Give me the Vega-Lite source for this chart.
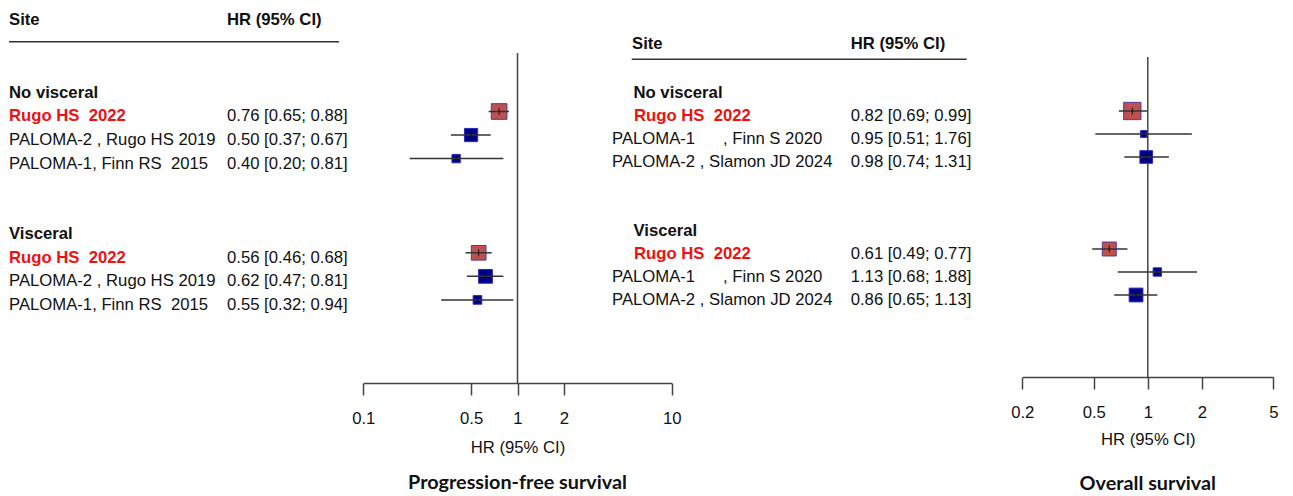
{
  "$schema": "https://vega.github.io/schema/vega-lite/v6.json",
  "width": 1293,
  "height": 383,
  "autosize": {"type": "none"},
  "padding": {"left": 0, "top": 0, "right": 0, "bottom": 113},
  "background": "white",
  "config": {"view": {"stroke": null}, "font": "Liberation Sans"},
  "datasets": {
    "pfs": [
      {"row": 1, "label": "No visceral", "kind": "group"},
      {"row": 2, "label": "Rugo HS\u00a0\u00a02022", "kind": "main", "hr": 0.76, "lo": 0.65, "hi": 0.88, "hr_text": "0.76 [0.65; 0.88]", "w": 49},
      {"row": 3, "label": "PALOMA-2 , Rugo HS 2019", "kind": "other", "hr": 0.50, "lo": 0.37, "hi": 0.67, "hr_text": "0.50 [0.37; 0.67]", "w": 35},
      {"row": 4, "label": "PALOMA-1, Finn RS\u00a0\u00a02015", "kind": "other", "hr": 0.40, "lo": 0.20, "hi": 0.81, "hr_text": "0.40 [0.20; 0.81]", "w": 14},
      {"row": 7, "label": "Visceral", "kind": "group"},
      {"row": 8, "label": "Rugo HS\u00a0\u00a02022", "kind": "main", "hr": 0.56, "lo": 0.46, "hi": 0.68, "hr_text": "0.56 [0.46; 0.68]", "w": 43},
      {"row": 9, "label": "PALOMA-2 , Rugo HS 2019", "kind": "other", "hr": 0.62, "lo": 0.47, "hi": 0.81, "hr_text": "0.62 [0.47; 0.81]", "w": 38},
      {"row": 10, "label": "PALOMA-1, Finn RS\u00a0\u00a02015", "kind": "other", "hr": 0.55, "lo": 0.32, "hi": 0.94, "hr_text": "0.55 [0.32; 0.94]", "w": 15}
    ],
    "os": [
      {"row": 1, "label": "No visceral", "kind": "group"},
      {"row": 2, "label": "Rugo HS\u00a0\u00a02022", "kind": "main", "hr": 0.82, "lo": 0.69, "hi": 0.99, "hr_text": "0.82 [0.69; 0.99]", "w": 60},
      {"row": 3, "label": "PALOMA-1\u00a0\u00a0\u00a0\u00a0\u00a0\u00a0, Finn S 2020", "kind": "other", "hr": 0.95, "lo": 0.51, "hi": 1.76, "hr_text": "0.95 [0.51; 1.76]", "w": 9},
      {"row": 4, "label": "PALOMA-2 , Slamon JD 2024", "kind": "other", "hr": 0.98, "lo": 0.74, "hi": 1.31, "hr_text": "0.98 [0.74; 1.31]", "w": 32},
      {"row": 7, "label": "Visceral", "kind": "group"},
      {"row": 8, "label": "Rugo HS\u00a0\u00a02022", "kind": "main", "hr": 0.61, "lo": 0.49, "hi": 0.77, "hr_text": "0.61 [0.49; 0.77]", "w": 39},
      {"row": 9, "label": "PALOMA-1\u00a0\u00a0\u00a0\u00a0\u00a0\u00a0, Finn S 2020", "kind": "other", "hr": 1.13, "lo": 0.68, "hi": 1.88, "hr_text": "1.13 [0.68; 1.88]", "w": 14},
      {"row": 10, "label": "PALOMA-2 , Slamon JD 2024", "kind": "other", "hr": 0.86, "lo": 0.65, "hi": 1.13, "hr_text": "0.86 [0.65; 1.13]", "w": 38}
    ],
    "pfs_head": [{"site": "Site", "hr": "HR (95% CI)", "title": "Progression-free survival", "ref": 1}],
    "os_head": [{"site": "Site", "hr": "HR (95% CI)", "title": "Overall survival", "ref": 1}]
  },
  "layer": [
    {
      "data": {"name": "pfs"},
      "transform": [{"filter": "datum.kind == 'other'"}],
      "mark": {"type": "text", "align": "left", "baseline": "middle", "dy": 5, "fontSize": 16.7, "color": "#111111"},
      "encoding": {
        "x": {"datum": 0, "type": "quantitative", "scale": {"domain": [0, 1], "range": [9, 227], "nice": false, "zero": false}, "axis": null},
        "y": {"field": "row", "type": "quantitative", "scale": {"domain": [-2.7346, 13.5287], "range": [0, 383], "nice": false, "zero": false}, "axis": null},
        "text": {"field": "label"}
      }
    },
    {
      "data": {"name": "pfs"},
      "transform": [{"filter": "datum.kind == 'main'"}],
      "mark": {"type": "text", "align": "left", "baseline": "middle", "dy": 5, "fontSize": 16.7, "fontWeight": "bold", "color": "#F01010"},
      "encoding": {
        "x": {"datum": 0, "type": "quantitative", "scale": {"domain": [0, 1], "range": [9, 227], "nice": false, "zero": false}, "axis": null},
        "y": {"field": "row", "type": "quantitative", "scale": {"domain": [-2.7346, 13.5287], "range": [0, 383], "nice": false, "zero": false}, "axis": null},
        "text": {"field": "label"}
      }
    },
    {
      "data": {"name": "pfs"},
      "transform": [{"filter": "datum.kind == 'group'"}],
      "mark": {"type": "text", "align": "left", "baseline": "middle", "dy": 5, "fontSize": 16.7, "fontWeight": "bold", "color": "#111111"},
      "encoding": {
        "x": {"datum": 0, "type": "quantitative", "scale": {"domain": [0, 1], "range": [9, 227], "nice": false, "zero": false}, "axis": null},
        "y": {"field": "row", "type": "quantitative", "scale": {"domain": [-2.7346, 13.5287], "range": [0, 383], "nice": false, "zero": false}, "axis": null},
        "text": {"field": "label"}
      }
    },
    {
      "data": {"name": "pfs"},
      "transform": [{"filter": "datum.kind != 'group'"}],
      "mark": {"type": "text", "align": "left", "baseline": "middle", "dy": 5, "fontSize": 16.7, "color": "#111111"},
      "encoding": {
        "x": {"datum": 1, "type": "quantitative", "scale": {"domain": [0, 1], "range": [9, 227], "nice": false, "zero": false}, "axis": null},
        "y": {"field": "row", "type": "quantitative", "scale": {"domain": [-2.7346, 13.5287], "range": [0, 383], "nice": false, "zero": false}, "axis": null},
        "text": {"field": "hr_text"}
      }
    },
    {
      "data": {"name": "pfs_head"},
      "mark": {"type": "text", "align": "left", "baseline": "middle", "dy": 5, "fontSize": 16.7, "fontWeight": "bold", "color": "#111111"},
      "encoding": {
        "x": {"datum": 0, "type": "quantitative", "scale": {"domain": [0, 1], "range": [9, 227], "nice": false, "zero": false}, "axis": null},
        "y": {"datum": -2.098, "type": "quantitative", "scale": {"domain": [-2.7346, 13.5287], "range": [0, 383], "nice": false, "zero": false}, "axis": null},
        "text": {"field": "site"}
      }
    },
    {
      "data": {"name": "pfs_head"},
      "mark": {"type": "text", "align": "left", "baseline": "middle", "dy": 5, "fontSize": 16.7, "fontWeight": "bold", "color": "#111111"},
      "encoding": {
        "x": {"datum": 1, "type": "quantitative", "scale": {"domain": [0, 1], "range": [9, 227], "nice": false, "zero": false}, "axis": null},
        "y": {"datum": -2.098, "type": "quantitative", "scale": {"domain": [-2.7346, 13.5287], "range": [0, 383], "nice": false, "zero": false}, "axis": null},
        "text": {"field": "hr"}
      }
    },
    {
      "data": {"name": "pfs_head"},
      "mark": {"type": "rule", "color": "#333333", "strokeWidth": 1.5},
      "encoding": {
        "x": {"datum": 0, "type": "quantitative", "scale": {"domain": [0, 1], "range": [9, 227], "nice": false, "zero": false}, "axis": null},
        "x2": {"datum": 1.514},
        "y": {"datum": -0.964, "type": "quantitative", "scale": {"domain": [-2.7346, 13.5287], "range": [0, 383], "nice": false, "zero": false}, "axis": null}
      }
    },
    {
      "data": {"name": "pfs_head"},
      "mark": {"type": "rule", "color": "#444444", "strokeWidth": 1.5},
      "encoding": {
        "x": {"field": "ref", "type": "quantitative", "scale": {"type": "log", "domain": [0.1, 10], "range": [363.3, 671.7], "nice": false}, "axis": null},
        "y": {"datum": -0.484, "type": "quantitative", "scale": {"domain": [-2.7346, 13.5287], "range": [0, 383], "nice": false, "zero": false}, "axis": null},
        "y2": {"datum": 13.5287}
      }
    },
    {
      "data": {"name": "pfs"},
      "transform": [{"filter": {"field": "hr", "valid": true}}],
      "mark": {"type": "point", "shape": "square", "filled": true, "strokeWidth": 1, "opacity": 1},
      "encoding": {
        "x": {"field": "hr", "type": "quantitative",
          "scale": {"type": "log", "domain": [0.1, 10], "range": [363.3, 671.7], "nice": false},
          "axis": {"orient": "bottom", "values": [0.1, 0.5, 1, 2, 10], "format": "~g", "grid": false, "domainColor": "#444444", "domainWidth": 1.5, "tickColor": "#444444", "tickWidth": 1.5, "tickSize": 12, "labelFontSize": 16.7, "labelColor": "#111111", "labelPadding": 15, "labelFlush": false, "labelOverlap": false, "titleFontSize": 16.7, "titleFontWeight": "normal", "titleColor": "#111111", "titlePadding": 13, "title": "HR (95% CI)"}},
        "y": {"field": "row", "type": "quantitative", "scale": {"domain": [-2.7346, 13.5287], "range": [0, 383], "nice": false, "zero": false}, "axis": null},
        "size": {"field": "w", "type": "quantitative", "scale": {"domain": [0, 100], "range": [0, 500], "zero": true}, "legend": null},
        "fill": {"field": "kind", "type": "nominal", "scale": {"domain": ["main", "other"], "range": ["#C0504D", "#000088"]}, "legend": null},
        "stroke": {"field": "kind", "type": "nominal", "scale": {"domain": ["main", "other"], "range": ["#4B3A9E", "#2A2ABF"]}, "legend": null}
      }
    },
    {
      "data": {"name": "pfs"},
      "transform": [{"filter": {"field": "hr", "valid": true}}],
      "mark": {"type": "rule", "color": "#333333", "strokeWidth": 1.5},
      "encoding": {
        "x": {"field": "lo", "type": "quantitative", "scale": {"type": "log", "domain": [0.1, 10], "range": [363.3, 671.7], "nice": false}, "axis": null},
        "x2": {"field": "hi"},
        "y": {"field": "row", "type": "quantitative", "scale": {"domain": [-2.7346, 13.5287], "range": [0, 383], "nice": false, "zero": false}, "axis": null}
      }
    },
    {
      "data": {"name": "pfs"},
      "transform": [{"filter": {"field": "hr", "valid": true}}],
      "mark": {"type": "point", "shape": "M0,-1L0,1", "filled": false, "stroke": "#111111", "strokeWidth": 1, "size": 49, "opacity": 1},
      "encoding": {
        "x": {"field": "hr", "type": "quantitative", "scale": {"type": "log", "domain": [0.1, 10], "range": [363.3, 671.7], "nice": false}, "axis": null},
        "y": {"field": "row", "type": "quantitative", "scale": {"domain": [-2.7346, 13.5287], "range": [0, 383], "nice": false, "zero": false}, "axis": null}
      }
    },
    {
      "data": {"name": "pfs_head"},
      "mark": {"type": "text", "align": "center", "baseline": "middle", "font": "Lato", "fontWeight": "bold", "fontSize": 19.8, "color": "#111111"},
      "encoding": {
        "x": {"field": "ref", "type": "quantitative", "scale": {"type": "log", "domain": [0.1, 10], "range": [363.3, 671.7], "nice": false}, "axis": null},
        "y": {"datum": 17.79, "type": "quantitative", "scale": {"domain": [-2.7346, 13.5287], "range": [0, 383], "nice": false, "zero": false}, "axis": null},
        "text": {"field": "title"}
      }
    },
    {
      "data": {"name": "os"},
      "transform": [{"filter": "datum.kind == 'other'"}],
      "mark": {"type": "text", "align": "left", "baseline": "middle", "dy": 5, "fontSize": 16.7, "color": "#111111"},
      "encoding": {
        "x": {"datum": 0, "type": "quantitative", "scale": {"domain": [0, 1], "range": [612, 850.7], "nice": false, "zero": false}, "axis": null},
        "y": {"field": "row", "type": "quantitative", "scale": {"domain": [-2.8261, 13.8261], "range": [0, 383], "nice": false, "zero": false}, "axis": null},
        "text": {"field": "label"}
      }
    },
    {
      "data": {"name": "os"},
      "transform": [{"filter": "datum.kind == 'main'"}],
      "mark": {"type": "text", "align": "left", "baseline": "middle", "dy": 5, "fontSize": 16.7, "fontWeight": "bold", "color": "#F01010"},
      "encoding": {
        "x": {"datum": 0.092, "type": "quantitative", "scale": {"domain": [0, 1], "range": [612, 850.7], "nice": false, "zero": false}, "axis": null},
        "y": {"field": "row", "type": "quantitative", "scale": {"domain": [-2.8261, 13.8261], "range": [0, 383], "nice": false, "zero": false}, "axis": null},
        "text": {"field": "label"}
      }
    },
    {
      "data": {"name": "os"},
      "transform": [{"filter": "datum.kind == 'group'"}],
      "mark": {"type": "text", "align": "left", "baseline": "middle", "dy": 5, "fontSize": 16.7, "fontWeight": "bold", "color": "#111111"},
      "encoding": {
        "x": {"datum": 0.09, "type": "quantitative", "scale": {"domain": [0, 1], "range": [612, 850.7], "nice": false, "zero": false}, "axis": null},
        "y": {"field": "row", "type": "quantitative", "scale": {"domain": [-2.8261, 13.8261], "range": [0, 383], "nice": false, "zero": false}, "axis": null},
        "text": {"field": "label"}
      }
    },
    {
      "data": {"name": "os"},
      "transform": [{"filter": "datum.kind != 'group'"}],
      "mark": {"type": "text", "align": "left", "baseline": "middle", "dy": 5, "fontSize": 16.7, "color": "#111111"},
      "encoding": {
        "x": {"datum": 1, "type": "quantitative", "scale": {"domain": [0, 1], "range": [612, 850.7], "nice": false, "zero": false}, "axis": null},
        "y": {"field": "row", "type": "quantitative", "scale": {"domain": [-2.8261, 13.8261], "range": [0, 383], "nice": false, "zero": false}, "axis": null},
        "text": {"field": "hr_text"}
      }
    },
    {
      "data": {"name": "os_head"},
      "mark": {"type": "text", "align": "left", "baseline": "middle", "dy": 5, "fontSize": 16.7, "fontWeight": "bold", "color": "#111111"},
      "encoding": {
        "x": {"datum": 0.084, "type": "quantitative", "scale": {"domain": [0, 1], "range": [612, 850.7], "nice": false, "zero": false}, "axis": null},
        "y": {"datum": -1.152, "type": "quantitative", "scale": {"domain": [-2.8261, 13.8261], "range": [0, 383], "nice": false, "zero": false}, "axis": null},
        "text": {"field": "site"}
      }
    },
    {
      "data": {"name": "os_head"},
      "mark": {"type": "text", "align": "left", "baseline": "middle", "dy": 5, "fontSize": 16.7, "fontWeight": "bold", "color": "#111111"},
      "encoding": {
        "x": {"datum": 1, "type": "quantitative", "scale": {"domain": [0, 1], "range": [612, 850.7], "nice": false, "zero": false}, "axis": null},
        "y": {"datum": -1.152, "type": "quantitative", "scale": {"domain": [-2.8261, 13.8261], "range": [0, 383], "nice": false, "zero": false}, "axis": null},
        "text": {"field": "hr"}
      }
    },
    {
      "data": {"name": "os_head"},
      "mark": {"type": "rule", "color": "#333333", "strokeWidth": 1.5},
      "encoding": {
        "x": {"datum": 0.0825, "type": "quantitative", "scale": {"domain": [0, 1], "range": [612, 850.7], "nice": false, "zero": false}, "axis": null},
        "x2": {"datum": 1.486},
        "y": {"datum": -0.248, "type": "quantitative", "scale": {"domain": [-2.8261, 13.8261], "range": [0, 383], "nice": false, "zero": false}, "axis": null}
      }
    },
    {
      "data": {"name": "os_head"},
      "mark": {"type": "rule", "color": "#444444", "strokeWidth": 1.5},
      "encoding": {
        "x": {"field": "ref", "type": "quantitative", "scale": {"type": "log", "domain": [0.2, 5], "range": [1022.3, 1273.3], "nice": false}, "axis": null},
        "y": {"datum": -0.348, "type": "quantitative", "scale": {"domain": [-2.8261, 13.8261], "range": [0, 383], "nice": false, "zero": false}, "axis": null},
        "y2": {"datum": 13.578}
      }
    },
    {
      "data": {"name": "os"},
      "transform": [{"filter": {"field": "hr", "valid": true}}],
      "mark": {"type": "point", "shape": "square", "filled": true, "strokeWidth": 1, "opacity": 1},
      "encoding": {
        "x": {"field": "hr", "type": "quantitative",
          "scale": {"type": "log", "domain": [0.2, 5], "range": [1022.3, 1273.3], "nice": false},
          "axis": {"orient": "bottom", "offset": -6, "values": [0.2, 0.5, 1, 2, 5], "format": "~g", "grid": false, "domainColor": "#444444", "domainWidth": 1.5, "tickColor": "#444444", "tickWidth": 1.5, "tickSize": 12, "labelFontSize": 16.7, "labelColor": "#111111", "labelPadding": 15, "labelFlush": false, "labelOverlap": false, "titleFontSize": 16.7, "titleFontWeight": "normal", "titleColor": "#111111", "titlePadding": 11, "title": "HR (95% CI)"}},
        "y": {"field": "row", "type": "quantitative", "scale": {"domain": [-2.8261, 13.8261], "range": [0, 383], "nice": false, "zero": false}, "axis": null},
        "size": {"field": "w", "type": "quantitative", "scale": {"domain": [0, 100], "range": [0, 500], "zero": true}, "legend": null},
        "fill": {"field": "kind", "type": "nominal", "scale": {"domain": ["main", "other"], "range": ["#C0504D", "#000088"]}, "legend": null},
        "stroke": {"field": "kind", "type": "nominal", "scale": {"domain": ["main", "other"], "range": ["#4B3A9E", "#2A2ABF"]}, "legend": null}
      }
    },
    {
      "data": {"name": "os"},
      "transform": [{"filter": {"field": "hr", "valid": true}}],
      "mark": {"type": "rule", "color": "#333333", "strokeWidth": 1.5},
      "encoding": {
        "x": {"field": "lo", "type": "quantitative", "scale": {"type": "log", "domain": [0.2, 5], "range": [1022.3, 1273.3], "nice": false}, "axis": null},
        "x2": {"field": "hi"},
        "y": {"field": "row", "type": "quantitative", "scale": {"domain": [-2.8261, 13.8261], "range": [0, 383], "nice": false, "zero": false}, "axis": null}
      }
    },
    {
      "data": {"name": "os"},
      "transform": [{"filter": {"field": "hr", "valid": true}}],
      "mark": {"type": "point", "shape": "M0,-1L0,1", "filled": false, "stroke": "#111111", "strokeWidth": 1, "size": 49, "opacity": 1},
      "encoding": {
        "x": {"field": "hr", "type": "quantitative", "scale": {"type": "log", "domain": [0.2, 5], "range": [1022.3, 1273.3], "nice": false}, "axis": null},
        "y": {"field": "row", "type": "quantitative", "scale": {"domain": [-2.8261, 13.8261], "range": [0, 383], "nice": false, "zero": false}, "axis": null}
      }
    },
    {
      "data": {"name": "os_head"},
      "mark": {"type": "text", "align": "center", "baseline": "middle", "font": "Lato", "fontWeight": "bold", "fontSize": 19.8, "color": "#111111"},
      "encoding": {
        "x": {"field": "ref", "type": "quantitative", "scale": {"type": "log", "domain": [0.2, 5], "range": [1022.3, 1273.3], "nice": false}, "axis": null},
        "y": {"datum": 18.22, "type": "quantitative", "scale": {"domain": [-2.8261, 13.8261], "range": [0, 383], "nice": false, "zero": false}, "axis": null},
        "text": {"field": "title"}
      }
    }
  ],
  "resolve": {"scale": {"x": "independent", "y": "independent"}}
}
